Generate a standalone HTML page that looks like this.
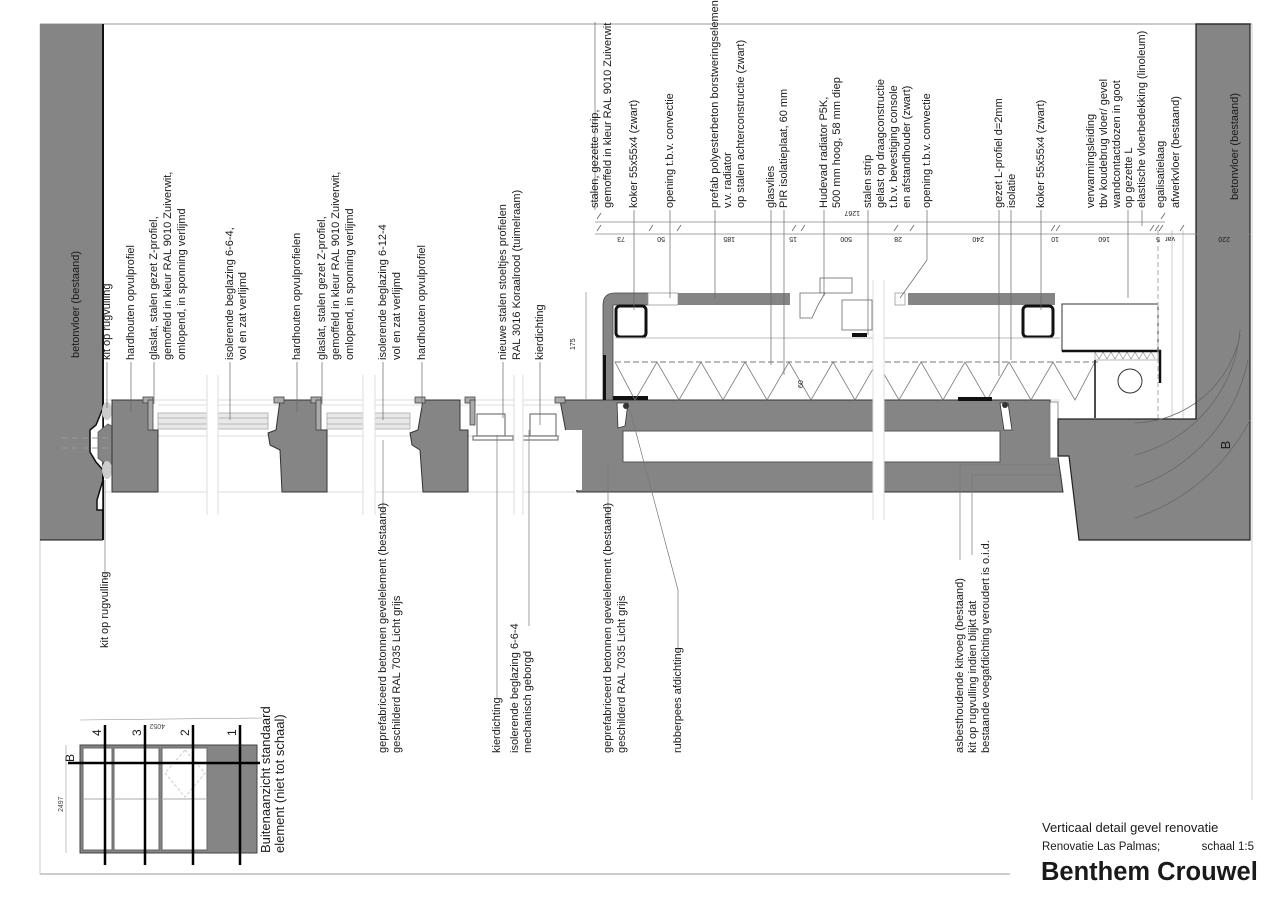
<!DOCTYPE html>
<html><head><meta charset="utf-8"><style>
html,body{margin:0;padding:0;background:#fff;}
svg{display:block;}
text{font-family:"Liberation Sans",sans-serif;fill:#1a1a1a;}
.l{font-size:11px;}
.d{font-size:7px;fill:#444;}
</style></head><body>
<svg width="1280" height="904" viewBox="0 0 1280 904" xmlns="http://www.w3.org/2000/svg">
<line x1="40" y1="24" x2="1252" y2="24" stroke="#ccc" stroke-width="2"/>
<line x1="40" y1="24" x2="40" y2="875" stroke="#ccc" stroke-width="1"/>
<line x1="40" y1="874" x2="1010" y2="874" stroke="#ccc" stroke-width="2"/>
<line x1="1252" y1="24" x2="1252" y2="800" stroke="#ccc" stroke-width="1"/>

<rect x="40" y="24" width="63" height="516" fill="#858585"/>
<line x1="103" y1="24" x2="103" y2="540" stroke="#111" stroke-width="2"/>
<line x1="40" y1="540" x2="103" y2="540" stroke="#111" stroke-width="1"/>
<polygon points="103,408 96,425 90,430 90,452 96,462 103,470 103,480 97,500 97,510 103,510" fill="#fff" stroke="#111" stroke-width="1.5"/>
<polygon points="98,432 108,424 122,432 122,458 108,466 98,458" fill="#858585" stroke="#555" stroke-width="0.8"/>
<ellipse cx="107" cy="411" rx="5" ry="9" fill="#ccc"/>
<ellipse cx="107" cy="470" rx="5" ry="9" fill="#ccc"/>
<line x1="62" y1="438" x2="120" y2="438" stroke="#999" stroke-dasharray="6,4"/>
<line x1="62" y1="448" x2="120" y2="448" stroke="#999" stroke-dasharray="6,4"/>

<g stroke="#ddd" stroke-width="1">
<line x1="105" y1="400" x2="1060" y2="400"/>
<line x1="105" y1="492" x2="575" y2="492"/>
<line x1="158" y1="436" x2="560" y2="436"/>
<line x1="158" y1="405" x2="560" y2="405"/>
</g>

<g fill="#e8e8e8" stroke="#aaa" stroke-width="0.8">
<rect x="158" y="413" width="110" height="16"/>
<rect x="327" y="413" width="83" height="16"/>
</g>
<g stroke="#888" stroke-width="0.6">
<line x1="158" y1="418" x2="268" y2="418"/><line x1="158" y1="424" x2="268" y2="424"/>
<line x1="327" y1="418" x2="410" y2="418"/><line x1="327" y1="424" x2="410" y2="424"/>
</g>

<g fill="#858585" stroke="#333" stroke-width="1">
<polygon points="112,400 150,400 150,430 158,430 158,492 112,492"/>
<polygon points="280,400 318,400 318,430 327,430 327,492 282,492 280,450 270,445 268,433 276,430"/>
<polygon points="423,400 460,400 460,430 468,430 468,492 423,492 420,450 412,445 410,433 418,430"/>
<polygon points="560,400 1050,400 1063,492 577,492"/>
</g>
<g fill="#aaa" stroke="#444" stroke-width="0.8">
<rect x="143" y="397" width="10" height="6"/><rect x="148" y="400" width="5" height="30"/>
<rect x="274" y="397" width="10" height="6"/><rect x="311" y="397" width="10" height="6"/><rect x="316" y="400" width="5" height="30"/>
<rect x="415" y="397" width="10" height="6"/><rect x="465" y="397" width="10" height="6"/><rect x="470" y="400" width="5" height="25"/>
<rect x="555" y="397" width="10" height="6"/>
</g>
<g fill="#fff" stroke="#777" stroke-width="1.2">
<rect x="477" y="414" width="28" height="22"/>
<rect x="530" y="414" width="26" height="22"/>
<rect x="473" y="436" width="40" height="4"/>
<rect x="522" y="436" width="36" height="4"/>
</g>
<rect x="560" y="430" width="22" height="60" fill="#fff"/>

<g fill="#fff"><rect x="207" y="375" width="11" height="140"/><rect x="363" y="375" width="12" height="140"/><rect x="514" y="375" width="9" height="140"/></g>
<g stroke="#ddd" stroke-width="1">
<line x1="207" y1="375" x2="207" y2="515"/><line x1="218" y1="375" x2="218" y2="515"/>
<line x1="363" y1="375" x2="363" y2="515"/><line x1="375" y1="375" x2="375" y2="515"/>
<line x1="514" y1="375" x2="514" y2="515"/><line x1="523" y1="375" x2="523" y2="515"/>
</g>

<rect x="623" y="431" width="377" height="31" fill="#fff" stroke="#555" stroke-width="1"/>
<polygon points="617,403 628,403 625,426 618,428" fill="#fff" stroke="#333" stroke-width="0.8"/>
<circle cx="626" cy="406" r="3" fill="#333"/>
<polygon points="1000,403 1008,403 1012,430 1004,430" fill="#fff" stroke="#333" stroke-width="0.8"/>
<circle cx="1005" cy="405" r="3" fill="#333"/>

<path d="M603,400 L603,305 Q603,293 615,293 L648,293 L648,305 L613,305 L613,400 Z" fill="#858585" stroke="#444" stroke-width="0.8"/>
<rect x="603" y="355" width="3" height="45" fill="#111"/>
<rect x="613" y="396" width="35" height="4" fill="#111"/>
<rect x="648" y="293" width="30" height="12" fill="#fff" stroke="#999" stroke-width="0.8"/>
<rect x="678" y="293" width="112" height="12" fill="#858585"/>
<rect x="908" y="293" width="147" height="12" fill="#858585"/>
<rect x="895" y="293" width="10" height="12" fill="#fff" stroke="#999" stroke-width="0.8"/>
<rect x="616" y="306" width="30" height="31" rx="4" fill="#fff" stroke="#111" stroke-width="3"/>
<rect x="1023" y="306" width="30" height="31" rx="4" fill="#fff" stroke="#111" stroke-width="3"/>
<line x1="615" y1="338" x2="1060" y2="338" stroke="#bbb"/>
<g fill="#fff" stroke="#666" stroke-width="0.8">
<rect x="820" y="278" width="32" height="15"/>
<polygon points="800,293 825,293 818,305 812,318 800,318"/>
<rect x="842" y="300" width="30" height="30"/>
</g>
<rect x="852" y="333" width="15" height="4" fill="#111"/>
<line x1="615" y1="362" x2="1100" y2="362" stroke="#bbb" stroke-width="2" stroke-dasharray="6,3"/>
<polyline points="615,362 635,400 657,362 679,400 701,362 723,400 745,362 767,400 789,362 811,400 833,362 855,400 877,362 899,400 921,362 943,400 965,362 987,400 1009,362 1031,400 1053,362 1075,400 1095,362" fill="none" stroke="#777" stroke-width="0.8"/>
<rect x="958" y="397" width="34" height="4" fill="#111"/>
<rect x="1062" y="304" width="96" height="47" fill="#fff" stroke="#333" stroke-width="1"/>
<rect x="1095" y="351" width="63" height="9" fill="#fff" stroke="#888" stroke-width="0.6"/>
<polyline points="1095,352 1099,359 1103,352 1107,359 1111,352 1115,359 1119,352 1123,359 1127,352 1131,359 1135,352 1139,359 1143,352 1147,359 1151,352 1155,359" fill="none" stroke="#888" stroke-width="0.6"/>
<polyline points="1062,351 1160,351 1160,383" fill="none" stroke="#111" stroke-width="2.5"/>
<polyline points="1095,360 1095,418" fill="none" stroke="#111" stroke-width="1.5"/>
<circle cx="1130" cy="381" r="12" fill="#fff" stroke="#333"/>
<line x1="1158" y1="230" x2="1158" y2="418" stroke="#aaa" stroke-dasharray="5,3"/>
<line x1="1172" y1="230" x2="1172" y2="418" stroke="#ccc"/>
<line x1="1183" y1="230" x2="1183" y2="418" stroke="#ccc"/>

<rect x="1050" y="402" width="8" height="56" fill="#fff" stroke="#777" stroke-width="0.8"/>
<polygon points="1196,24 1250,24 1250,540 1079,540 1069,456 1058,456 1058,419 1196,419" fill="#858585" stroke="#222" stroke-width="1.2"/>
<g fill="none" stroke="#666" stroke-width="0.8">
<path d="M1135,423 A110,110 0 0 0 1240,335"/>
<path d="M1135,455 A140,140 0 0 0 1240,330"/>
<path d="M1135,487 A170,170 0 0 0 1248,360"/>
<path d="M1135,518 A200,200 0 0 0 1250,420"/>
</g>
<line x1="1196" y1="24" x2="1196" y2="419" stroke="#111"/>
<text x="1230" y="445" transform="rotate(-90 1230 445)" font-size="13" text-anchor="middle">B</text>

<rect x="873" y="280" width="11" height="240" fill="#fff"/>
<line x1="873" y1="280" x2="873" y2="520" stroke="#ddd"/><line x1="884" y1="280" x2="884" y2="520" stroke="#ddd"/>

<g stroke="#888" stroke-width="0.7">
<line x1="595" y1="222" x2="1165" y2="222"/>
<line x1="595" y1="234" x2="1250" y2="234"/>
<line x1="586" y1="292" x2="586" y2="400"/>
</g>
<g stroke="#666" stroke-width="0.8">
<path d="M597,219l4,-6M597,231l4,-6M649,231l4,-6M677,231l4,-6M792,231l4,-6M801,231l4,-6M894,231l4,-6M910,231l4,-6M1051,231l4,-6M1056,231l4,-6M1150,231l4,-6M1155,231l4,-6M1159,231l4,-6M1180,231l4,-6M1161,219l4,-6"/>
</g>
<g class="d">
<text x="625" y="243" transform="rotate(180 625 240)">73</text>
<text x="665" y="243" transform="rotate(180 665 240)">50</text>
<text x="735" y="243" transform="rotate(180 735 240)">185</text>
<text x="797" y="243" transform="rotate(180 797 240)">15</text>
<text x="852" y="243" transform="rotate(180 852 240)">500</text>
<text x="902" y="243" transform="rotate(180 902 240)">28</text>
<text x="984" y="243" transform="rotate(180 984 240)">240</text>
<text x="1059" y="243" transform="rotate(180 1059 240)">10</text>
<text x="1110" y="243" transform="rotate(180 1110 240)">160</text>
<text x="1160" y="243" transform="rotate(180 1160 240)">5</text>
<text x="1175" y="243" transform="rotate(180 1175 240)">var</text>
<text x="1230" y="243" transform="rotate(180 1230 240)">220</text>
<text x="860" y="217" transform="rotate(180 860 214)">1267</text>
<text x="575" y="350" transform="rotate(-90 575 350)">175</text>
<text x="803" y="388" transform="rotate(-90 803 388)">60</text>
</g>

<g stroke="#666" stroke-width="0.7">
<line x1="107" y1="362" x2="107" y2="408"/>
<line x1="131" y1="362" x2="131" y2="412"/>
<line x1="154" y1="362" x2="154" y2="404"/>
<line x1="230" y1="362" x2="230" y2="420"/>
<line x1="297" y1="362" x2="297" y2="412"/>
<line x1="322" y1="362" x2="322" y2="404"/>
<line x1="383" y1="362" x2="383" y2="420"/>
<line x1="422" y1="362" x2="422" y2="412"/>
<line x1="503" y1="362" x2="503" y2="418"/>
<line x1="540" y1="362" x2="540" y2="425"/>
<line x1="595" y1="210" x2="595" y2="22"/>
<line x1="634" y1="210" x2="634" y2="310"/>
<line x1="670" y1="210" x2="670" y2="298"/>
<line x1="715" y1="210" x2="715" y2="298"/>
<line x1="771" y1="210" x2="771" y2="365"/>
<line x1="784" y1="210" x2="784" y2="375"/>
<line x1="824" y1="210" x2="824" y2="296"/>
<line x1="868" y1="210" x2="868" y2="335"/>
<line x1="927" y1="210" x2="927" y2="260"/><line x1="927" y1="260" x2="900" y2="298"/>
<line x1="999" y1="210" x2="999" y2="376"/>
<line x1="1011" y1="210" x2="1011" y2="360"/>
<line x1="1041" y1="210" x2="1041" y2="310"/>
<line x1="1128" y1="210" x2="1128" y2="298"/>
<line x1="1142" y1="210" x2="1142" y2="226"/>
</g>

<g stroke="#777" stroke-width="0.7">
<line x1="105" y1="580" x2="105" y2="480"/>
<line x1="383" y1="513" x2="383" y2="440"/>
<line x1="497" y1="698" x2="497" y2="435"/>
<line x1="529" y1="626" x2="529" y2="430"/>
<line x1="608" y1="520" x2="608" y2="465"/>
<line x1="678" y1="652" x2="678" y2="590"/><line x1="678" y1="590" x2="630" y2="410"/>
<line x1="960" y1="560" x2="960" y2="465"/><line x1="960" y1="465" x2="1055" y2="465"/>
<line x1="972" y1="555" x2="972" y2="475"/><line x1="972" y1="475" x2="1062" y2="475"/>
</g>

<g class="l">
<text transform="translate(79,358) rotate(-90)">betonvloer (bestaand)</text>
<text transform="translate(110,360) rotate(-90)">kit op rugvulling</text>
<text transform="translate(134,360) rotate(-90)">hardhouten opvulprofiel</text>
<text transform="translate(157,360) rotate(-90)">glaslat,  stalen gezet Z-profiel,</text>
<text transform="translate(171,360) rotate(-90)">gemoffeld in kleur RAL 9010 Zuiverwit,</text>
<text transform="translate(185,360) rotate(-90)">omlopend,  in sponning verlijmd</text>
<text transform="translate(233,360) rotate(-90)">isolerende beglazing 6-6-4,</text>
<text transform="translate(246,360) rotate(-90)">vol en zat verlijmd</text>
<text transform="translate(300,360) rotate(-90)">hardhouten opvulprofielen</text>
<text transform="translate(325,360) rotate(-90)">glaslat,  stalen gezet Z-profiel,</text>
<text transform="translate(339,360) rotate(-90)">gemoffeld in kleur RAL 9010 Zuiverwit,</text>
<text transform="translate(353,360) rotate(-90)">omlopend,  in sponning verlijmd</text>
<text transform="translate(386,360) rotate(-90)">isolerende beglazing 6-12-4</text>
<text transform="translate(400,360) rotate(-90)">vol en zat verlijmd</text>
<text transform="translate(425,360) rotate(-90)">hardhouten opvulprofiel</text>
<text transform="translate(506,360) rotate(-90)">nieuwe stalen stoeltjes profielen</text>
<text transform="translate(520,360) rotate(-90)">RAL 3016 Koraalrood (tuimelraam)</text>
<text transform="translate(543,360) rotate(-90)">kierdichting</text>

<text transform="translate(598,208) rotate(-90)">stalen, gezette strip,</text>
<text transform="translate(611,208) rotate(-90)">gemoffeld in kleur RAL 9010 Zuiverwit</text>
<text transform="translate(637,208) rotate(-90)">koker 55x55x4 (zwart)</text>
<text transform="translate(673,208) rotate(-90)">opening t.b.v. convectie</text>
<text transform="translate(718,208) rotate(-90)">prefab polyesterbeton borstweringselement</text>
<text transform="translate(731,208) rotate(-90)">v.v. radiator</text>
<text transform="translate(744,208) rotate(-90)">op stalen achterconstructie (zwart)</text>
<text transform="translate(774,208) rotate(-90)">glasvlies</text>
<text transform="translate(787,208) rotate(-90)">PIR isolatieplaat, 60 mm</text>
<text transform="translate(827,208) rotate(-90)">Hudevad radiator P5K,</text>
<text transform="translate(840,208) rotate(-90)">500 mm hoog, 58 mm diep</text>
<text transform="translate(871,208) rotate(-90)">stalen strip</text>
<text transform="translate(884,208) rotate(-90)">gelast op draagconstructie</text>
<text transform="translate(897,208) rotate(-90)">t.b.v. bevestiging  console</text>
<text transform="translate(910,208) rotate(-90)">en afstandhouder (zwart)</text>
<text transform="translate(930,208) rotate(-90)">opening t.b.v. convectie</text>
<text transform="translate(1002,208) rotate(-90)">gezet L-profiel d=2mm</text>
<text transform="translate(1015,208) rotate(-90)">isolatie</text>
<text transform="translate(1044,208) rotate(-90)">koker 55x55x4 (zwart)</text>
<text transform="translate(1094,208) rotate(-90)">verwarmingsleiding</text>
<text transform="translate(1107,208) rotate(-90)">tbv koudebrug vloer/ gevel</text>
<text transform="translate(1120,208) rotate(-90)">wandcontactdozen in goot</text>
<text transform="translate(1132,208) rotate(-90)">op gezette L</text>
<text transform="translate(1145,208) rotate(-90)">elastische vloerbedekking (linoleum)</text>
<text transform="translate(1164,208) rotate(-90)">egalisatielaag</text>
<text transform="translate(1179,208) rotate(-90)">afwerkvloer (bestaand)</text>
<text transform="translate(1238,200) rotate(-90)">betonvloer (bestaand)</text>
</g>

<g class="l">
<text transform="translate(108,648) rotate(-90)">kit op rugvulling</text>
<text transform="translate(386,753) rotate(-90)">geprefabriceerd betonnen gevelelement  (bestaand)</text>
<text transform="translate(400,753) rotate(-90)">geschilderd RAL 7035 Licht grijs</text>
<text transform="translate(500,753) rotate(-90)">kierdichting</text>
<text transform="translate(518,753) rotate(-90)">isolerende beglazing 6-6-4</text>
<text transform="translate(531,753) rotate(-90)">mechanisch geborgd</text>
<text transform="translate(611,753) rotate(-90)">geprefabriceerd betonnen gevelelement (bestaand)</text>
<text transform="translate(625,753) rotate(-90)">geschilderd RAL 7035 Licht grijs</text>
<text transform="translate(681,753) rotate(-90)">rubberpees afdichting</text>
<text transform="translate(963,753) rotate(-90)">asbesthoudende kitvoeg (bestaand)</text>
<text transform="translate(976,753) rotate(-90)">kit op rugvulling indien blijkt dat</text>
<text transform="translate(989,753) rotate(-90)">bestaande voegafdichting veroudert is o.i.d.</text>
</g>

<rect x="80" y="745" width="177" height="108" fill="#858585" stroke="#444"/>
<g fill="#fff" stroke="#666" stroke-width="1">
<rect x="83" y="748" width="29" height="102"/>
<rect x="114" y="748" width="45" height="102"/>
<rect x="162" y="748" width="45" height="102"/>
</g>
<g stroke="#bbb" stroke-width="1.2">
<line x1="83" y1="799" x2="112" y2="799"/><line x1="114" y1="799" x2="159" y2="799"/><line x1="162" y1="799" x2="207" y2="799"/>
</g>
<polygon points="185,750 205,773 185,797 165,773" fill="none" stroke="#ccc" stroke-dasharray="3,2"/>
<g stroke="#000" stroke-width="2.5">
<line x1="105" y1="725" x2="105" y2="865"/>
<line x1="145" y1="725" x2="145" y2="865"/>
<line x1="193" y1="725" x2="193" y2="865"/>
<line x1="240" y1="725" x2="240" y2="865"/>
<line x1="68" y1="763" x2="260" y2="763"/>
</g>
<line x1="80" y1="720" x2="262" y2="718" stroke="#999" stroke-width="0.6"/>
<line x1="66" y1="745" x2="66" y2="853" stroke="#999" stroke-width="0.6"/>
<g font-size="12">
<text transform="translate(101,736) rotate(-90)">4</text>
<text transform="translate(141,736) rotate(-90)">3</text>
<text transform="translate(189,736) rotate(-90)">2</text>
<text transform="translate(236,736) rotate(-90)">1</text>
<text transform="translate(74,762) rotate(-90)">B</text>
</g>
<text class="d" transform="translate(165,724) rotate(180)">4052</text>
<text class="d" transform="translate(63,812) rotate(-90)">2497</text>
<g font-size="13">
<text transform="translate(270,853) rotate(-90)">Buitenaanzicht standaard</text>
<text transform="translate(284,853) rotate(-90)">element (niet tot schaal)</text>
</g>

<text x="1042" y="832" font-size="13">Verticaal detail gevel renovatie</text>
<text x="1042" y="850" font-size="11.5">Renovatie Las Palmas;</text>
<text x="1254" y="850" font-size="11.5" text-anchor="end">schaal 1:5</text>
<text x="1041" y="880" font-size="25.5" font-weight="bold">Benthem Crouwel</text>
</svg>
</body></html>
